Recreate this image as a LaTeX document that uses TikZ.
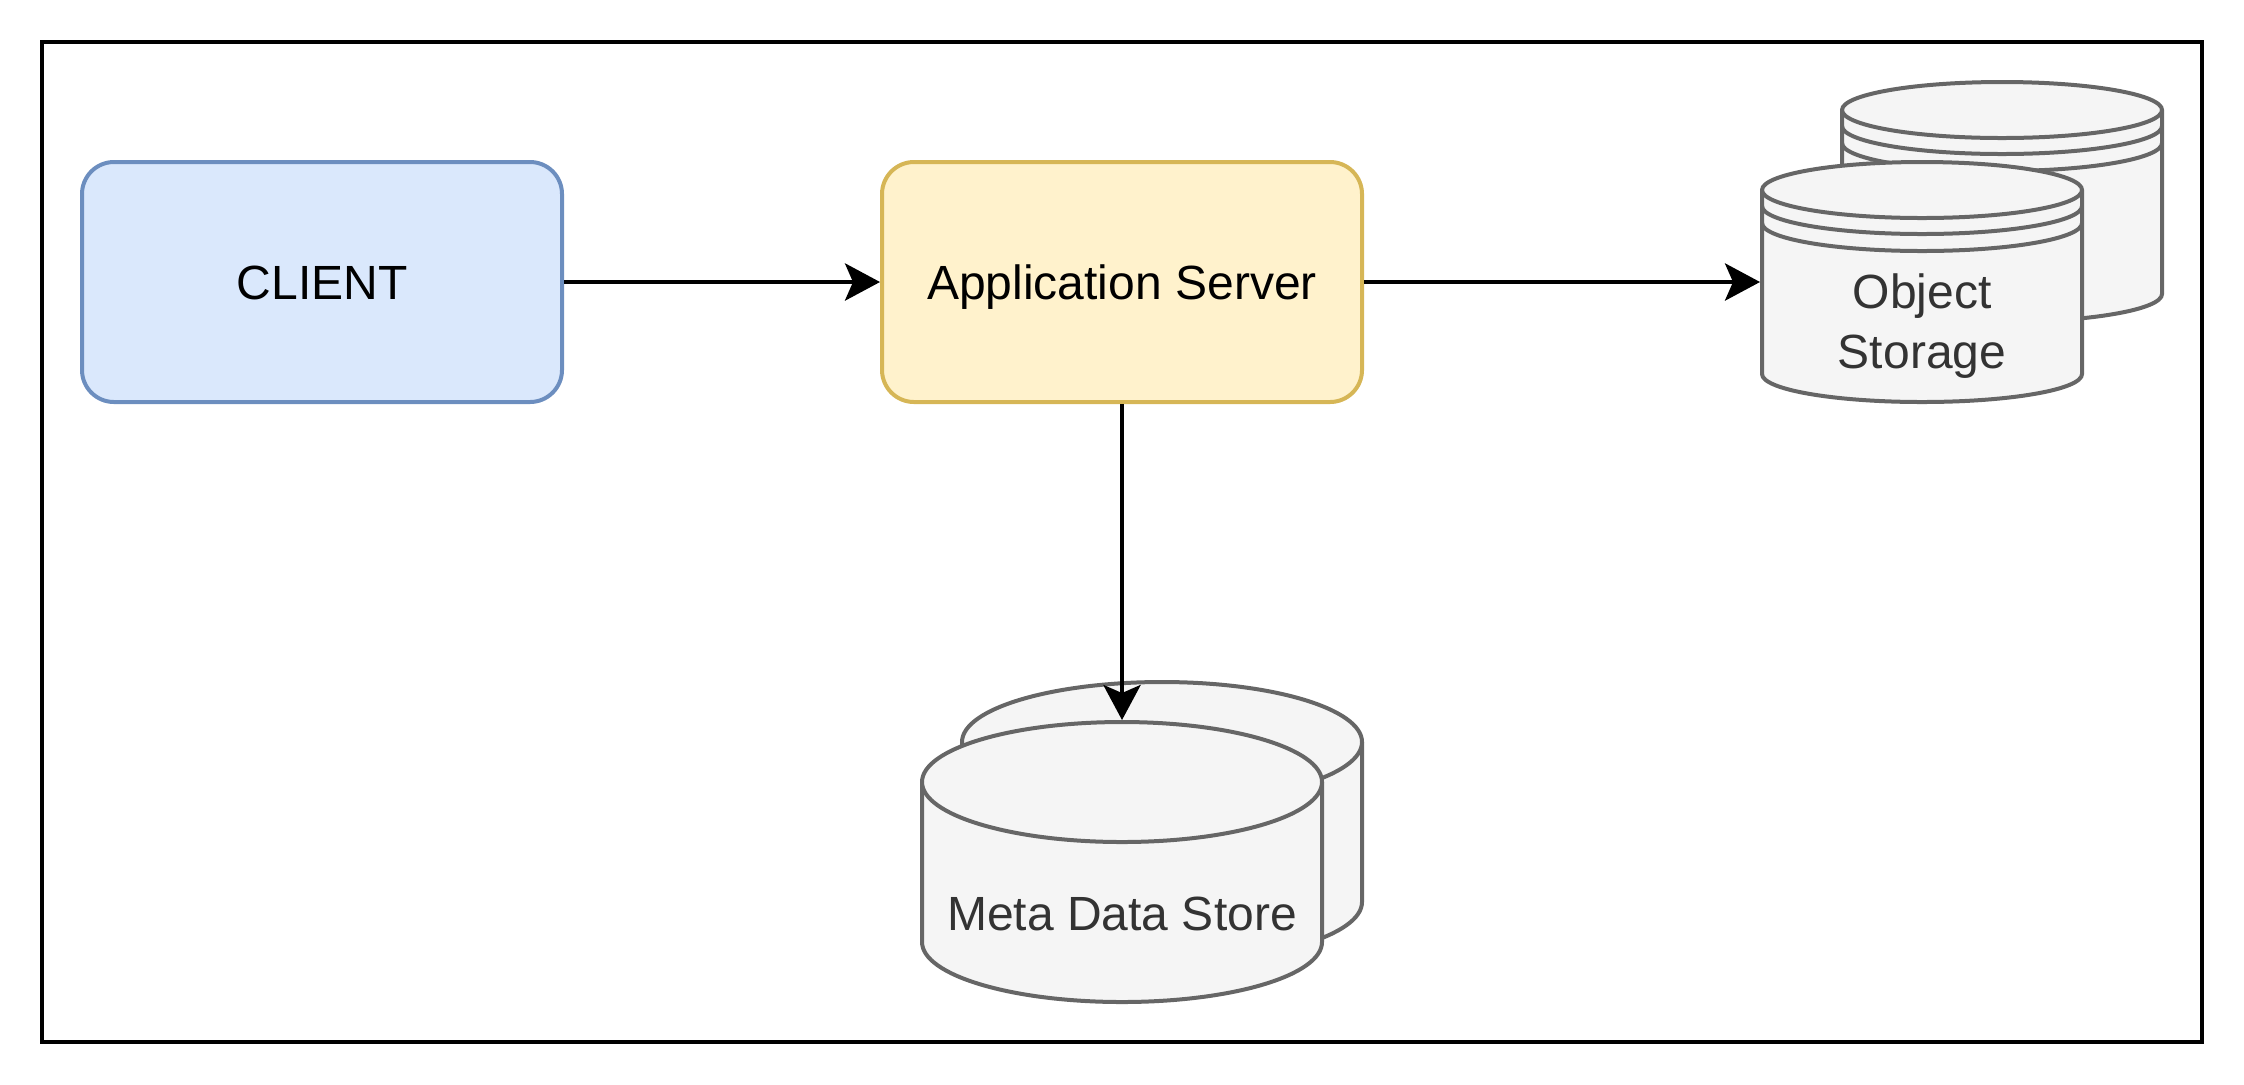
\documentclass[tikz,border=0pt]{standalone}
\usepackage{fontspec}
\setmainfont{Liberation Sans}
\usetikzlibrary{arrows.meta}

\definecolor{clientfill}{HTML}{DAE8FC}
\definecolor{clientline}{HTML}{6C8EBF}
\definecolor{serverfill}{HTML}{FFF2CC}
\definecolor{serverline}{HTML}{D6B656}
\definecolor{storefill}{HTML}{F5F5F5}
\definecolor{storeline}{HTML}{666666}
\definecolor{storetext}{HTML}{333333}

\tikzset{
    box/.style={draw, line width=1pt, rounded corners=8pt, minimum width=120pt, minimum height=60pt,
        inner sep=0pt, text height=8.6pt, text depth=0pt},
    store/.style={draw=storeline, fill=storefill, line width=1pt},
    frame/.style={inner sep=0pt, outer sep=0.5pt},
    link/.style={-{Stealth[length=8.75pt,width=9.3pt,inset=2pt]}, line width=1pt},
}

% left, top, width, height, ry
\newcommand\drum[5]{%
    \draw[store] (#1,-#2-#5) -- ++(0,{-(#4-2*#5)}) arc[start angle=180, end angle=360, x radius=#3/2, y radius=#5]
        -- ++(0,{#4-2*#5}) arc[start angle=0, end angle=180, x radius=#3/2, y radius=#5] -- cycle;
    \draw[store] (#1,-#2-#5) arc[start angle=180, end angle=360, x radius=#3/2, y radius=#5];
}
\newcommand\stackdrum[5]{%
    \drum{#1}{#2}{#3}{#4}{#5}
    \draw[store, fill=none] (#1,-#2-#5-4) arc[start angle=180, end angle=360, x radius=#3/2, y radius=#5];
    \draw[store, fill=none] (#1,-#2-#5-8.25) arc[start angle=180, end angle=360, x radius=#3/2, y radius=#5];
}

\begin{document}
\begin{tikzpicture}[x=1pt, y=1pt, font=\fontsize{12pt}{15pt}\selectfont]
            \useasboundingbox (0,0) rectangle (561,-271);
            \draw[line width=1pt] (10.5,-10.5) rectangle (550.5,-260.5);

            \node[box, draw=clientline, fill=clientfill] (client) at (80.5,-70.5) {CLIENT};
            \node[box, draw=serverline, fill=serverfill] (server) at (280.5,-70.5) {Application Server};

            % object storage
            \stackdrum{460.5}{20.5}{80}{60}{7}
            \stackdrum{440.5}{40.5}{80}{60}{7}
            \node[frame, minimum width=80pt, minimum height=60pt] (objstore) at (480.5,-70.5) {};
            \node[text=storetext, align=center] (objlabel) at (480.5,-81.4) {Object\\Storage};

            % meta data store
            \drum{240.5}{170.5}{100}{70}{15}
            \drum{230.5}{180.5}{100}{70}{15}
            \node[frame, minimum width=100pt, minimum height=70pt] (meta) at (280.5,-215.5) {};
            \node[text=storetext, anchor=base] (metalabel) at (280.5,-232.5) {Meta Data Store};

            \draw[link] (client.east) -- (server.west);
            \draw[link] (server.east) -- (objstore.west);
            \draw[link] (server.south) -- (meta.north);
\end{tikzpicture}
\end{document}
